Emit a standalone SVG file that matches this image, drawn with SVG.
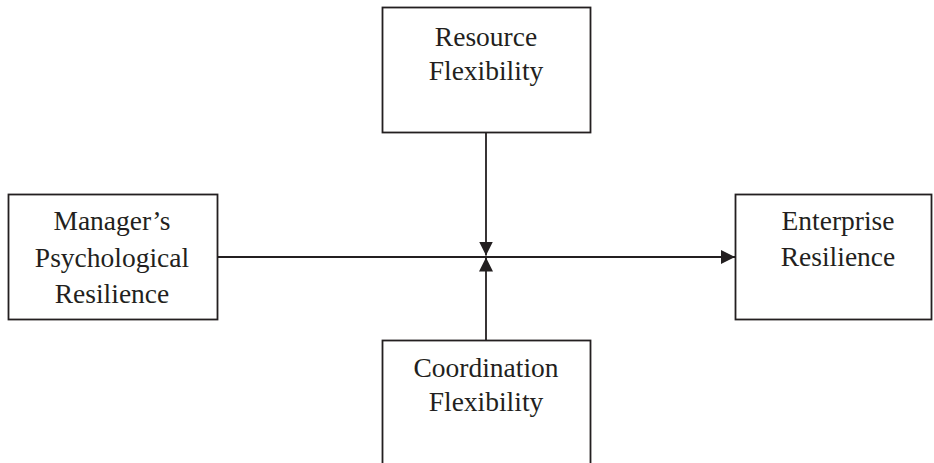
<svg xmlns="http://www.w3.org/2000/svg" width="934" height="463" viewBox="0 0 934 463">
  <style>
    .box { fill: #ffffff; stroke: #231f20; stroke-width: 1.8; }
    .lbl { font-family: "Liberation Serif", "Times New Roman", serif; font-size: 27.5px; fill: #231f20; text-anchor: middle; }
    .conn { stroke: #231f20; stroke-width: 1.8; fill: none; }
  </style>
  <defs>
    <marker id="arrow" viewBox="0 0 14 14" refX="14" refY="7" markerWidth="14" markerHeight="14" markerUnits="userSpaceOnUse" orient="auto">
      <path d="M0,0 L14,7 L0,14 Z" fill="#231f20"/>
    </marker>
  </defs>

  <g id="connectors">
    <line class="conn" x1="218" y1="257" x2="735" y2="257" marker-end="url(#arrow)"/>
    <line class="conn" x1="486" y1="132" x2="486" y2="255.5" marker-end="url(#arrow)"/>
    <line class="conn" x1="486" y1="340" x2="486" y2="257.5" marker-end="url(#arrow)"/>
  </g>

  <g id="resource-flexibility">
    <rect class="box" x="382.5" y="7.5" width="208" height="125"/>
    <text class="lbl" x="486" y="46">Resource</text>
    <text class="lbl" x="486" y="80">Flexibility</text>
  </g>

  <g id="managers-psychological-resilience">
    <rect class="box" x="8.5" y="194.5" width="209" height="125"/>
    <text class="lbl" x="112" y="230">Manager’s</text>
    <text class="lbl" x="112" y="266.5">Psychological</text>
    <text class="lbl" x="112" y="303">Resilience</text>
  </g>

  <g id="enterprise-resilience">
    <rect class="box" x="735.5" y="194.5" width="196" height="125"/>
    <text class="lbl" x="838" y="230">Enterprise</text>
    <text class="lbl" x="838" y="266">Resilience</text>
  </g>

  <g id="coordination-flexibility">
    <rect class="box" x="382.5" y="340.5" width="208" height="130"/>
    <text class="lbl" x="486" y="377">Coordination</text>
    <text class="lbl" x="486" y="411">Flexibility</text>
  </g>
</svg>
